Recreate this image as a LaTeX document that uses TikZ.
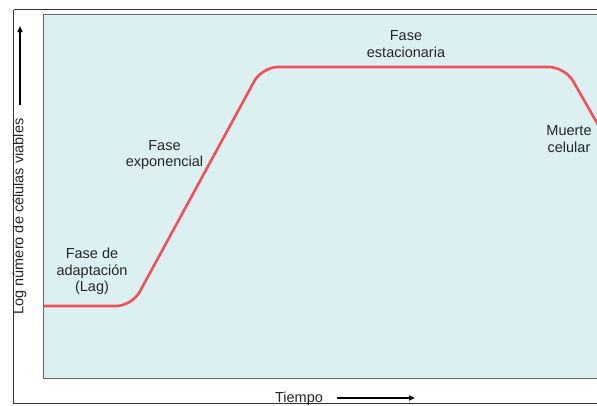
\documentclass[tikz,border=0pt]{standalone}
\usepackage{fontspec}
\setmainfont{Liberation Sans}
\usetikzlibrary{arrows.meta}
\begin{document}
\begin{tikzpicture}[x=1pt,y=-1pt,
  lbl/.style={font=\fontsize{14.5}{16.5}\selectfont, align=center, text=black!85, inner sep=0pt},
  curve/.style={line width=2.6pt, rounded corners=16pt},
  axarrow/.style={line width=1.6pt, -{Triangle[length=6pt,width=5pt]}}]
\useasboundingbox (0,0) rectangle (597,405);
\fill[white] (0,0) rectangle (597,405);
\draw[black!80, line width=1pt] (13.5,9.5) -- (610,9.5);
\draw[black!80, line width=1pt] (13.5,9.5) -- (13.5,403.5) -- (610,403.5);
\draw[fill={rgb,255:red,220;green,240;blue,241}, draw=black!60, line width=0.8pt] (43.5,14.5) rectangle (620,378.5);
\draw[curve, draw={rgb,255:red,240;green,80;blue,90}] (43.5,306) -- (132,306) -- (262,67) -- (565,67) -- (620,163);
\node[lbl] (lag) at (92,271.5) {Fase de\\adaptación\\(Lag)};
\node[lbl] (exp) at (164.5,155) {Fase\\exponencial};
\node[lbl] (est) at (406,44) {Fase\\estacionaria};
\node[lbl] (mue) at (569,139) {Muerte\\celular};
\node[lbl, anchor=base] (tiempo) at (299,402) {Tiempo};
\coordinate (xa) at (337,398);
\coordinate (xb) at (415,398);
\draw[axarrow] (xa) -- (xb);
\node[lbl, rotate=90] (ylab) at (19.5,216.5) {Log número de células viables};
\coordinate (ya) at (20,105);
\coordinate (yb) at (20,26);
\draw[axarrow] (ya) -- (yb);
\end{tikzpicture}
\end{document}
